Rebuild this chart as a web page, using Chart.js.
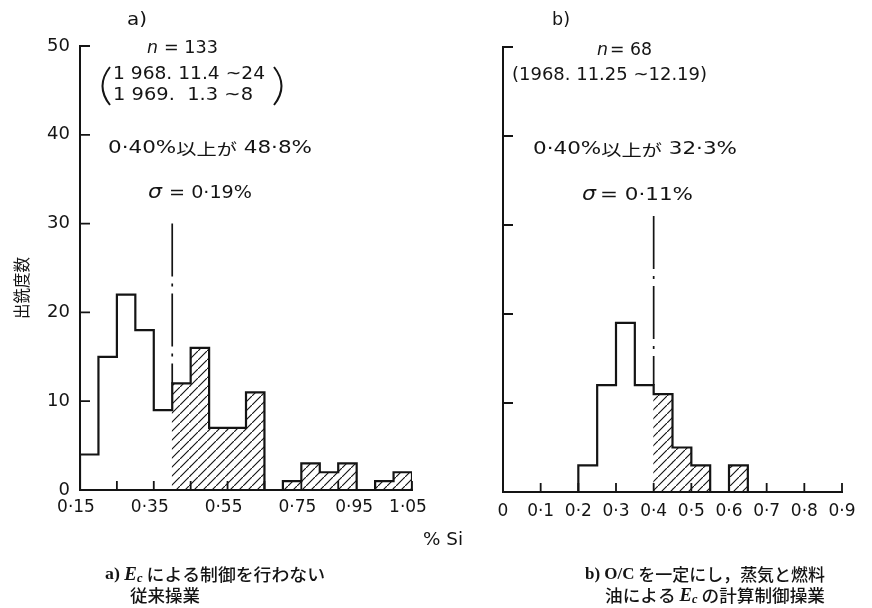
<!DOCTYPE html>
<html lang="ja">
<head>
<meta charset="utf-8">
<title>出銑度数 — % Si</title>
<script src="https://cdn.jsdelivr.net/npm/chart.js@4.4.1/dist/chart.umd.min.js"></script>
<style>
  html, body { margin: 0; padding: 0; background: #fff; }
  #wrap { position: relative; width: 872px; height: 608px; overflow: hidden; background: #fff; }
  canvas { position: absolute; top: 0; }
  #histA { left: 0; }
  #histB { left: 460px; }
</style>
</head>
<body>
<div id="wrap">
  <canvas id="histA" width="480" height="608"></canvas>
  <canvas id="histB" width="412" height="608"></canvas>
</div>
<script>
// ---- a) conventional operation (no Ec control): bins of 0.05 % Si ----
const binLowA = [0.15, 0.20, 0.25, 0.30, 0.35, 0.40, 0.45, 0.50, 0.55,
                 0.60, 0.65, 0.70, 0.75, 0.80, 0.85, 0.90, 0.95, 1.00];
const countsA = [4, 15, 22, 18, 9, 12, 16, 7, 7, 11, 0, 1, 3, 2, 3, 0, 1, 2];
const xTicksA = [0.15, 0.25, 0.35, 0.45, 0.55, 0.65, 0.75, 0.85, 0.95, 1.05];
// the 0·95 label is padded so it sits clear of 1·05
const xTickLabelsA = ['0·15', '', '0·35', '', '0·55', '', '0·75', '', '0·95\u2003\u2003', '1·05'];

// ---- b) constant O/C, computed Ec control by steam and fuel oil ----
const binLowB = [0.00, 0.05, 0.10, 0.15, 0.20, 0.25, 0.30, 0.35, 0.40,
                 0.45, 0.50, 0.55, 0.60, 0.65, 0.70, 0.75, 0.80, 0.85];
const countsB = [0, 0, 0, 0, 3, 12, 19, 12, 11, 5, 3, 0, 3, 0, 0, 0, 0, 0];
const xTicksB = [0, 0.1, 0.2, 0.3, 0.4, 0.5, 0.6, 0.7, 0.8, 0.9];
const xTickLabelsB = ['0', '0·1', '0·2', '0·3', '0·4', '0·5', '0·6', '0·7', '0·8', '0·9'];

// shared frequency axis
const yTicks = [0, 10, 20, 30, 40, 50];
const yTickLabels = ['0', '10', '20', '30', '40', '50'];

const binWidth = 0.05;
const limitSi = 0.40;        // bins at or above this are hatched
const guideTopA = 30;        // top of the dash-dot marker at 0.40 %
const guideTopB = 31;

const INK = '#141414';
const SANS = '"DejaVu Sans", "Noto Sans CJK JP", sans-serif';
const SERIF = '"Liberation Serif", "DejaVu Serif", serif';
const CJK = '"Noto Sans CJK JP", sans-serif';

// diagonal hatching tile
function hatchPattern() {
  const s = 9;
  const t = document.createElement('canvas');
  t.width = s; t.height = s;
  const c = t.getContext('2d');
  c.strokeStyle = INK;
  c.lineWidth = 1.15;
  c.beginPath();
  c.moveTo(-1, s + 1); c.lineTo(s + 1, -1);
  c.moveTo(-2, 1); c.lineTo(1, -2);
  c.moveTo(s - 1, s + 2); c.lineTo(s + 2, s - 1);
  c.stroke();
  return c.createPattern(t, 'repeat');
}

// left-aligned text made of runs, optionally squeezed/stretched to a width
function drawRuns(ctx, runs, x, y, w) {
  ctx.save();
  ctx.textBaseline = 'middle';
  ctx.textAlign = 'left';
  ctx.fillStyle = INK;
  const widths = runs.map(r => { ctx.font = r.font; return ctx.measureText(r.text).width; });
  const total = widths.reduce((a, b) => a + b, 0);
  ctx.translate(x, y);
  if (w) ctx.scale(w / total, 1);
  let cx = 0;
  runs.forEach((r, i) => {
    ctx.font = r.font;
    ctx.fillText(r.text, cx, r.dy || 0);
    cx += widths[i];
  });
  ctx.restore();
}

function run(text, font, dy) { return { text, font, dy }; }

function makeHist(canvasId, cfg) {
  const { binLow, counts, xMin, xMax, xTicks, xTickLabels, guideTop,
          showYLabels, area, annotate } = cfg;
  const ctx = document.getElementById(canvasId).getContext('2d');
  const hatch = hatchPattern();

  const bars = binLow.map((lo, i) => ({ x: lo + binWidth / 2, y: counts[i] }));
  const barFill = binLow.map(lo => (lo >= limitSi - 1e-9 ? hatch : 'rgba(0,0,0,0)'));

  // outline of the histogram as a stepped line
  const outline = [{ x: binLow[0], y: 0 }];
  binLow.forEach((lo, i) => outline.push({ x: lo, y: counts[i] }));
  outline.push({ x: binLow[binLow.length - 1] + binWidth, y: 0 });

  const k = binLow.findIndex(v => Math.abs(v - limitSi) < 1e-9);
  const guideBottom = Math.max(counts[k - 1], counts[k]);
  const guide = [{ x: limitSi, y: guideTop }, { x: limitSi, y: guideBottom }];

  const innerTicks = {
    id: 'innerTicks',
    afterDatasetsDraw(chart) {
      const c = chart.ctx, xs = chart.scales.x, ys = chart.scales.y;
      const a = chart.chartArea;
      c.save();
      c.strokeStyle = INK;
      c.lineWidth = 1.8;
      c.beginPath();
      xTicks.forEach(v => {
        const px = xs.getPixelForValue(v);
        c.moveTo(px, a.bottom); c.lineTo(px, a.bottom - 9);
      });
      yTicks.forEach(v => {
        if (v === 0) return;
        const py = ys.getPixelForValue(v);
        c.moveTo(a.left, py); c.lineTo(a.left + 10, py);
      });
      c.stroke();
      c.restore();
    },
    afterDraw(chart) { annotate(chart.ctx); }
  };

  return new Chart(ctx, {
    type: 'bar',
    data: {
      datasets: [
        {
          type: 'line', data: guide, order: 1,
          borderColor: INK, borderWidth: 1.7, borderDash: [53, 7, 3, 7],
          pointRadius: 0, fill: false, clip: false
        },
        {
          type: 'line', data: outline, order: 2, stepped: 'before',
          borderColor: INK, borderWidth: 2.2, pointRadius: 0, fill: false,
          borderJoinStyle: 'miter', borderCapStyle: 'square'
        },
        {
          type: 'bar', data: bars, order: 3,
          backgroundColor: barFill, borderWidth: 0,
          barPercentage: 1, categoryPercentage: 1
        }
      ]
    },
    options: {
      responsive: false,
      animation: false,
      devicePixelRatio: 1,
      events: [],
      layout: { padding: { left: 0, top: area.top, right: area.right, bottom: 0 } },
      plugins: { legend: { display: false }, tooltip: { enabled: false }, title: { display: false } },
      scales: {
        x: {
          type: 'linear', min: xMin, max: xMax, offset: false,
          afterBuildTicks(s) { s.ticks = xTicks.map(v => ({ value: v })); },
          afterFit(s) { s.height = area.xAxisHeight; },
          grid: { display: true, drawOnChartArea: false, drawTicks: false, offset: false },
          border: { display: true, color: INK, width: 2 },
          ticks: {
            autoSkip: false, maxRotation: 0, padding: area.xLabelPad, color: INK,
            labelOffset: area.xLabelShift,
            font: { family: SANS, size: 17 },
            callback(v, i) { return xTickLabels[i]; }
          }
        },
        y: {
          type: 'linear', min: 0, max: 50,
          afterBuildTicks(s) { s.ticks = yTicks.map(v => ({ value: v })); },
          afterFit(s) { s.width = area.yAxisWidth; },
          grid: { display: true, drawOnChartArea: false, drawTicks: false },
          border: { display: true, color: INK, width: 2 },
          ticks: {
            display: showYLabels, padding: 10, color: INK,
            font: { family: SANS, size: 18 },
            callback(v, i) { return yTickLabels[i]; }
          }
        }
      }
    },
    plugins: [innerTicks]
  });
}

const F17 = '17px ' + SANS;
const NIT = 'italic 18px ' + SANS;
const CAP = '500 17px ' + CJK;
const CAPL = '600 17px ' + SERIF;
const EIT = 'italic 600 18px ' + SERIF;
const SUB = 'italic 600 12px ' + SERIF;

makeHist('histA', {
  binLow: binLowA, counts: countsA, xMin: 0.15, xMax: 1.05,
  xTicks: xTicksA, xTickLabels: xTickLabelsA, guideTop: guideTopA,
  showYLabels: true,
  area: { top: 46, right: 68, yAxisWidth: 80, xAxisHeight: 118, xLabelPad: 7, xLabelShift: -4 },
  annotate(c) {
    drawRuns(c, [run('a)', F17)], 127, 21, 20);
    drawRuns(c, [run('n', NIT)], 147, 48, 11);
    drawRuns(c, [run('= 133', F17)], 164, 49, 54);
    // large bracket round the two observation periods
    c.save();
    c.strokeStyle = INK; c.lineWidth = 2;
    c.beginPath();
    c.moveTo(110, 67); c.quadraticCurveTo(95, 86, 110, 105);
    c.moveTo(274, 67); c.quadraticCurveTo(289, 86, 274, 105);
    c.stroke();
    c.restore();
    drawRuns(c, [run('1 968. 11.4 ~24', F17)], 113, 75, 152);
    drawRuns(c, [run('1 969.  1.3 ~8', F17)], 113, 96, 140);
    drawRuns(c, [run('0·40%', F17), run('以上が', '16px ' + CJK), run(' 48·8%', F17)], 108, 149, 204);
    drawRuns(c, [run('σ', 'italic 19px ' + SANS)], 148, 193, 14);
    drawRuns(c, [run('= 0·19%', F17)], 169, 194, 83);
    // frequency axis title
    c.save();
    c.translate(22, 288);
    c.rotate(-Math.PI / 2);
    drawRuns(c, [run('出銑度数', '17px ' + CJK)], -31, 0, 62);
    c.restore();
    drawRuns(c, [run('% Si', F17)], 423, 541, 40);
    drawRuns(c, [run('a) ', CAPL), run('E', EIT), run('c', SUB, 4), run(' による制御を行わない', CAP)], 105, 575, 220);
    drawRuns(c, [run('従来操業', CAP)], 130, 596, 70);
  }
});

makeHist('histB', {
  binLow: binLowB, counts: countsB, xMin: 0, xMax: 0.9,
  xTicks: xTicksB, xTickLabels: xTickLabelsB, guideTop: guideTopB,
  showYLabels: false,
  area: { top: 47, right: 30, yAxisWidth: 43, xAxisHeight: 116, xLabelPad: 9, xLabelShift: 0 },
  annotate(c) {
    const o = 460;
    drawRuns(c, [run('b)', F17)], 552 - o, 21, 18);
    drawRuns(c, [run('n', NIT)], 597 - o, 50, 11);
    drawRuns(c, [run('= 68', F17)], 610 - o, 51, 42);
    drawRuns(c, [run('(1968. 11.25 ~12.19)', F17)], 512 - o, 76, 195);
    drawRuns(c, [run('0·40%', F17), run('以上が', '16px ' + CJK), run(' 32·3%', F17)], 533 - o, 150, 204);
    drawRuns(c, [run('σ', 'italic 19px ' + SANS)], 582 - o, 195, 14);
    drawRuns(c, [run('= 0·11%', F17)], 600 - o, 196, 93);
    drawRuns(c, [run('b) ', CAPL), run('O/C', CAPL), run(' を一定にし，蒸気と燃料', CAP)], 585 - o, 575, 240);
    drawRuns(c, [run('油による ', CAP), run('E', EIT), run('c', SUB, 4), run(' の計算制御操業', CAP)], 605 - o, 596, 220);
  }
});
</script>
</body>
</html>
